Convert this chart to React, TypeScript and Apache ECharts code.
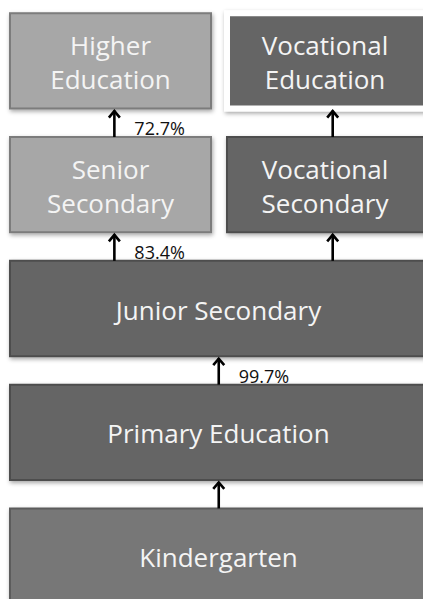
import React, { useEffect, useRef } from "react";
import * as echarts from "echarts";

// Boxes: column span (0..2), level (0 = bottom), label, tone
const boxNames = [
  "Higher\nEducation",
  "Vocational\nEducation",
  "Senior\nSecondary",
  "Vocational\nSecondary",
  "Junior Secondary",
  "Primary Education",
  "Kindergarten",
];
const boxColStart = [0, 1, 0, 1, 0, 0, 0];
const boxColEnd = [1, 2, 1, 2, 2, 2, 2];
const boxLevel = [4, 4, 3, 3, 2, 1, 0];
const boxTone = ["light", "outlined", "light", "dark", "dark", "dark", "mid"];

// Arrows: column position, level they start from, transition rate label
const arrowCol = [0.49, 1.515, 0.49, 1.515, 0.98, 0.98];
const arrowFromLevel = [3, 3, 2, 2, 1, 0];
const arrowRate = ["72.7%", "", "83.4%", "", "99.7%", ""];

const FONT = "'Open Sans', 'Noto Sans', sans-serif";

const toneStyle: Record<string, any> = {
  light: { fill: "#a7a7a7", stroke: "#7b7b7b", lineWidth: 2 },
  dark: { fill: "#656565", stroke: "#4e4e4e", lineWidth: 2 },
  outlined: { fill: "#656565", stroke: "#ffffff", lineWidth: 6 },
  mid: { fill: "#777777", stroke: "#5c5c5c", lineWidth: 2 },
};

export default function App() {
  const ref = useRef<HTMLDivElement>(null);
  useEffect(() => {
    document.body.style.margin = "0";
    if (!ref.current) return;
    const chart = echarts.init(ref.current, undefined, { renderer: "svg" });

    const boxData = boxNames.map((n, i) => [
      boxColStart[i],
      boxColEnd[i],
      boxLevel[i],
      n,
      boxTone[i],
    ]);
    const arrowData = arrowCol.map((c, i) => [c, arrowFromLevel[i], arrowRate[i]]);

    const boxHeightRatio = 0.77;

    chart.setOption({
      animation: false,
      backgroundColor: "#ffffff",
      grid: { left: 10, top: -1, width: 426, height: 619, outerBoundsMode: "none", containLabel: false },
      xAxis: { type: "value", min: 0, max: 2, show: false },
      yAxis: { type: "value", min: -0.5, max: 4.5, show: false },
      tooltip: { show: false },
      series: [
        {
          type: "custom",
          silent: true,
          clip: false,
          data: boxData,
          encode: { x: [0, 1], y: 2 },
          renderItem: (params: any, api: any) => {
            const c0 = api.value(0);
            const c1 = api.value(1);
            const lvl = api.value(2);
            const idx = params.dataIndex;
            const name = boxNames[idx];
            const tone = boxTone[idx];
            const p0 = api.coord([c0, lvl]);
            const p1 = api.coord([c1, lvl]);
            const h = api.size([0, 1])[1] * boxHeightRatio;
            let x0 = p0[0];
            let x1 = p1[0];
            if (c0 > 0) x0 += 4;
            if (c1 < 2) x1 -= 12;
            const st = toneStyle[tone];
            const cy = p0[1];
            return {
              type: "group",
              children: [
                {
                  type: "rect",
                  shape: { x: x0, y: cy - h / 2, width: x1 - x0, height: h },
                  style: {
                    fill: st.fill,
                    stroke: st.stroke,
                    lineWidth: st.lineWidth,
                    shadowBlur: 4,
                    shadowOffsetY: 2,
                    shadowOffsetX: 1,
                    shadowColor: "rgba(0,0,0,0.35)",
                  },
                },
                {
                  type: "text",
                  x: (x0 + Math.min(x1, 423)) / 2 + (c1 === 2 && c0 === 0 ? 2 : 0),
                  y: cy + 1,
                  style: {
                    text: name,
                    fill: "#f4f4f4",
                    font: `26px ${FONT}`,
                    lineHeight: 34,
                    align: "center",
                    verticalAlign: "middle",
                  },
                },
              ],
            };
          },
        },
        {
          type: "custom",
          silent: true,
          clip: false,
          data: arrowData,
          encode: { x: 0, y: 1 },
          renderItem: (params: any, api: any) => {
            const col = api.value(0);
            const lvl = api.value(1);
            const rate = arrowRate[params.dataIndex];
            const h = api.size([0, 1])[1] * boxHeightRatio;
            const pLow = api.coord([col, lvl]);
            const pHigh = api.coord([col, lvl + 1]);
            const cx = pLow[0];
            const bottom = pLow[1] - h / 2;
            const top = pHigh[1] + h / 2 + 1;
            const children: any[] = [
              {
                type: "line",
                shape: { x1: cx, y1: bottom, x2: cx, y2: top + 1 },
                style: { stroke: "#000", lineWidth: 2.6 },
              },
              {
                type: "polyline",
                shape: {
                  points: [
                    [cx - 5.5, top + 8],
                    [cx, top + 1.5],
                    [cx + 5.5, top + 8],
                  ],
                },
                style: { stroke: "#000", lineWidth: 2.6, fill: "none" },
              },
            ];
            if (rate) {
              children.push({
                type: "text",
                x: cx + 20,
                y: (top + bottom) / 2 + 5,
                style: {
                  text: rate,
                  fill: "#111",
                  font: `18px ${FONT}`,
                  align: "left",
                  verticalAlign: "middle",
                },
              });
            }
            return { type: "group", children };
          },
        },
      ],
    });
    return () => chart.dispose();
  }, []);

  return (
    <div
      ref={ref}
      style={{
        width: 423,
        height: 599,
        background: "#fff",
      }}
    />
  );
}
